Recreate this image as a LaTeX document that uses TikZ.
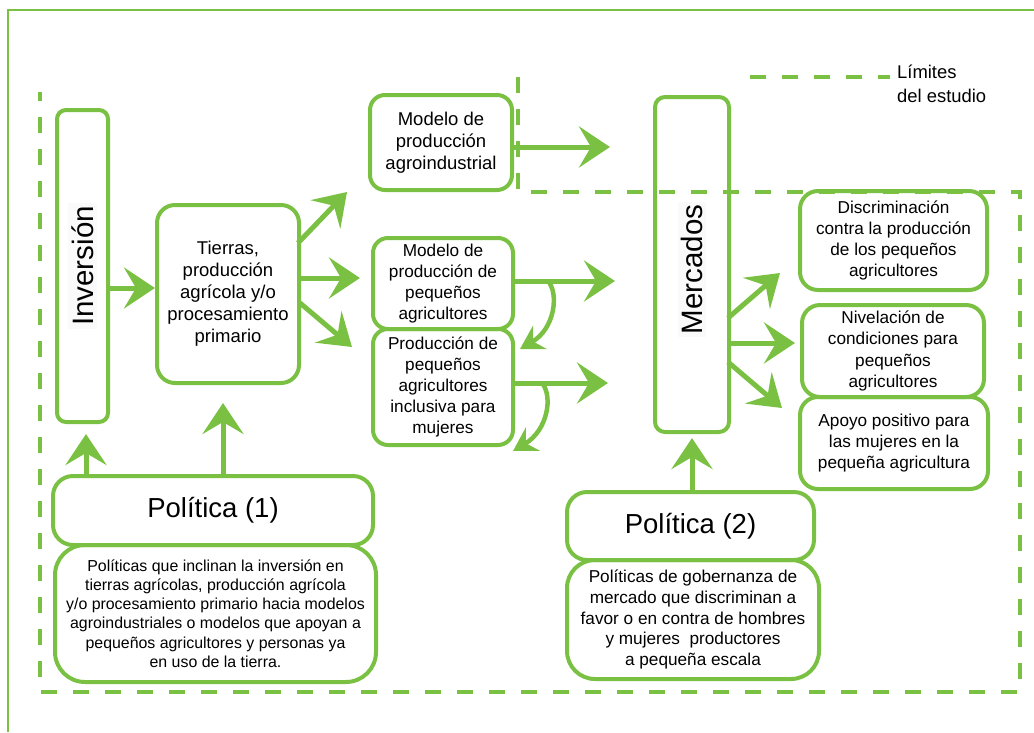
\documentclass[tikz,border=0pt]{standalone}
\usepackage{fontspec}
\setmainfont{Liberation Sans}
\usetikzlibrary{arrows.meta,calc}
\definecolor{G}{RGB}{122,193,67}
\newcommand\fzA{\fontsize{18.5}{22}\selectfont}
\newcommand\fzB{\fontsize{17.2}{21.2}\selectfont}
\newcommand\fzP{\fontsize{27.5}{30}\selectfont}
\newcommand\fzD{\fontsize{15.9}{19.3}\selectfont}
\newcommand\fzE{\fontsize{17.2}{20.7}\selectfont}
\newcommand\fzR{\fontsize{29.5}{32}\selectfont}
\newcommand\fzL{\fontsize{18.4}{23.5}\selectfont}
\begin{document}
\begin{tikzpicture}[x=1pt,y=-1pt]
\tikzset{
 box/.style={draw=G, line width=4pt, rounded corners=15pt, inner sep=0pt, outer sep=0pt, align=center, text=black},
 arr/.style={draw=G, line width=5pt, -{Stealth[length=31pt,width=41pt,inset=12pt]}},
 arrs/.style={draw=G, line width=4.5pt, -{Stealth[length=23pt,width=27pt,inset=8pt]}},
 bound/.style={draw=G, line width=4.5pt, dash pattern=on 16pt off 16pt},
 rottext/.style={rotate=90, fill=black!2, inner sep=3pt, font=\fzR}
}
\useasboundingbox (0,0) rectangle (1034,732);
% outer frame
\draw[G, line width=2.6pt] (8,732) -- (8,10) -- (1034,10);
% study boundary
\draw[bound] (518,77) -- (518,192) -- (1020,192) -- (1020,692) -- (40,692) -- (40,92);
% legend
\node[anchor=west, align=left, font=\fzL, inner sep=0pt] (leg) at (897,84) {Límites\\del estudio};
\draw[bound] ($(leg.west)+(-147,-7)$) -- ($(leg.west)+(-7,-7)$);

% nodes
\node[box, rounded corners=9pt, minimum width=51pt, minimum height=312pt] (inv) at (82.5,266) {};
\node[rottext] at (inv) {Inversión};
\node[box, rounded corners=18pt, minimum width=142pt, minimum height=178pt, font=\fzA] (tier) at (228,294) {Tierras,\\producción\\agrícola y/o\\procesamiento\\primario};
\node[box, minimum width=142pt, minimum height=95pt, font=\fzA] (agro) at (441,142.5) {Modelo de\\producción\\agroindustrial};
\node[box, minimum width=140pt, minimum height=91pt, font=\fzB] (peq) at (443,283.5) {Modelo de\\producción de\\pequeños\\agricultores};
\node[box, minimum width=140pt, minimum height=116pt, font=\fzB] (incl) at (443,387) {Producción de\\pequeños\\agricultores\\inclusiva para\\mujeres};
\node[box, rounded corners=10pt, minimum width=74pt, minimum height=335pt] (merc) at (692,264.5) {};
\node[rottext] at ($(merc)+(0,5)$) {Mercados};
\node[box, rounded corners=18pt, minimum width=187pt, minimum height=99pt, font=\fzB] (disc) at (893.5,240.5) {Discriminación\\contra la producción\\de los pequeños\\agricultores};
\node[box, rounded corners=18pt, minimum width=182pt, minimum height=92pt, font=\fzB] (niv) at (893,351) {Nivelación de\\condiciones para\\pequeños\\agricultores};
\node[box, rounded corners=18pt, minimum width=188pt, minimum height=92pt, font=\fzB] (apo) at (894,443) {Apoyo positivo para\\las mujeres en la\\pequeña agricultura};
\node[box, rounded corners=20pt, minimum width=320pt, minimum height=69pt, font=\fzP] (pol1) at (213,510.5) {Política (1)};
\node[box, rounded corners=30pt, minimum width=321pt, minimum height=137pt, font=\fzD] (des1) at (215.5,613.5) {Políticas que inclinan la inversión en\\tierras agrícolas, producción agrícola\\y/o procesamiento primario hacia modelos\\agroindustriales o modelos que apoyan a\\pequeños agricultores y personas ya\\en uso de la tierra.};
\node[box, rounded corners=20pt, minimum width=247pt, minimum height=68pt, font=\fzP] (pol2) at (690.5,526) {Política (2)};
\node[box, rounded corners=28pt, minimum width=252pt, minimum height=119pt, font=\fzE] (des2) at (693,619.5) {Políticas de gobernanza de\\mercado que discriminan a\\favor o en contra de hombres\\y mujeres\ \ productores\\a pequeña escala};

% arrows
\draw[arr] ($(inv.east)+(0,22)$) -- ($(tier.west)+(-2,-6)$);
\draw[arr] ($(tier.east)+(-1,-51)$) -- ($(agro.south west)+(-23,2)$);
\draw[arr] ($(tier.east)+(0,-16)$) -- ($(peq.west)+(-13,-5.5)$);
\draw[arr] ($(tier.east)+(1,9)$) -- ($(incl.west)+(-21,-40)$);
\draw[arr] ($(agro.east)+(0,4.5)$) -- ($(merc.west|-agro.east)+(-45,4.5)$);
\draw[arr] ($(peq.east)+(0,-2.5)$) -- ($(merc.west|-peq.east)+(-40,-2.5)$);
\draw[arr] ($(incl.east)+(0,-4)$) -- ($(merc.west|-incl.east)+(-47,-4)$);
\draw[arrs] ($(peq.east)+(35,-2.5)$) .. controls ($(peq.east)+(46,10)$) and ($(peq.east)+(42,45)$) .. ($(incl.north east)+(7,20)$);
\draw[arrs] ($(incl.east)+(29,-4)$) .. controls ($(incl.east)+(40,9)$) and ($(incl.east)+(35,43)$) .. ($(incl.south east)+(0,6)$);
\draw[arr] ($(pol1.north west)+(33,0)$) -- ($(inv.south)+(3.5,12)$);
\draw[arr] ($(pol1.north west)+(170,0)$) -- ($(tier.south)+(-5,20)$);
\draw[arr] ($(pol2.north)+(1.5,0)$) -- ($(merc.south)+(0,6)$);
\draw[arr] ($(merc.east)+(-1,53.5)$) -- ($(disc.south west)+(-20,-17)$);
\draw[arr] ($(merc.east)+(0,78.5)$) -- ($(niv.west)+(-7,-8)$);
\draw[arr] ($(merc.east)+(-1,97.5)$) -- ($(apo.west)+(-18,-35)$);
\end{tikzpicture}
\end{document}
